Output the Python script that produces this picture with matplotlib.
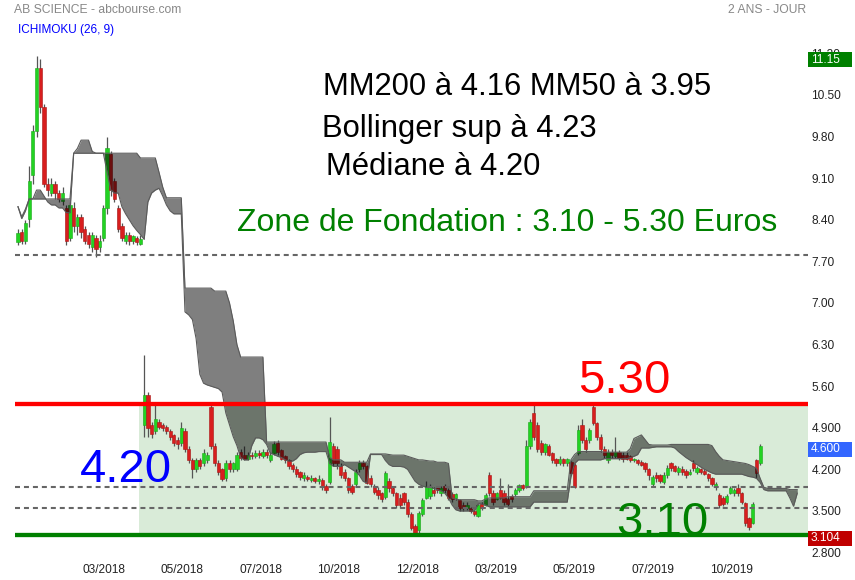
import matplotlib
matplotlib.use("Agg")
import matplotlib.pyplot as plt
import numpy as np
from matplotlib.patches import Rectangle
from matplotlib.transforms import blended_transform_factory

plt.rcParams['font.family'] = ['Liberation Sans', 'DejaVu Sans']

# ---------------- data (daily candles) ----------------
opens = [8.02, 8.20, 8.05, 8.42, 9.15, 9.90, 10.95, 10.30, 9.00, 8.85,
         9.00, 8.85, 8.72, 8.60, 8.10, 8.60, 8.30, 8.45, 8.25, 8.15,
         7.95, 8.10, 7.95, 8.10, 8.60, 9.50, 9.05, 8.60, 8.30, 8.05,
         8.15, 8.05, 8.10, 8.00, 4.95, 5.45, 4.95, 4.85, 5.00, 4.95,
         4.92, 4.85, 4.78, 4.70, 4.64, 4.85, 4.55, 4.35, 4.20, 4.35,
         4.30, 4.35, 5.25, 4.60, 4.30, 4.20, 4.05, 4.30, 4.20, 4.20,
         4.50, 4.45, 4.38, 4.45, 4.42, 4.48, 4.42, 4.50, 4.35, 4.48,
         4.65, 4.52, 4.42, 4.35, 4.28, 4.20, 4.15, 4.05, 4.08, 4.02,
         4.05, 4.00, 4.02, 3.92, 3.99, 4.60, 4.55, 4.25, 4.15, 4.05,
         3.92, 3.95, 4.20, 4.30, 4.25, 4.05, 3.92, 3.85, 3.80, 3.73,
         4.00, 3.88, 3.80, 3.72, 3.80, 3.65, 3.45, 3.25, 3.18, 3.45,
         3.72, 3.75, 3.85, 3.90, 3.80, 3.92, 3.85, 3.78, 3.72, 3.68,
         3.60, 3.55, 3.55, 3.50, 3.42, 3.62, 3.60, 4.10, 3.80, 3.70,
         3.85, 3.80, 3.70, 3.75, 3.78, 3.85, 3.93, 3.90, 4.60, 5.15,
         4.95, 4.65, 4.50, 4.60, 4.48, 4.38, 4.30, 4.38, 4.30, 4.32,
         4.27, 4.48, 4.95, 4.70, 4.70, 5.25, 4.98, 4.75, 4.55, 4.35,
         4.50, 4.42, 4.50, 4.45, 4.45, 4.42, 4.35, 4.36, 4.33, 4.30,
         4.20, 3.95, 4.10, 4.10, 3.98, 4.10, 4.30, 4.25, 4.15, 4.20,
         4.18, 4.12, 4.30, 4.15, 4.20, 4.18, 4.12, 4.05, 3.90, 3.77,
         3.72, 3.65, 3.80, 3.80, 3.88, 3.80, 3.63, 3.38, 3.30, 4.35,
         4.30]
highs = [8.25, 8.25, 8.40, 9.30, 10.00, 11.15, 11.10, 10.35, 9.10, 9.10,
         9.05, 8.90, 8.95, 8.65, 8.70, 8.70, 8.50, 8.50, 8.30, 8.20,
         8.20, 8.15, 8.15, 8.65, 9.80, 9.55, 9.10, 8.65, 8.35, 8.20,
         8.20, 8.15, 8.12, 8.15, 6.12, 5.50, 5.00, 5.28, 5.05, 4.98,
         4.95, 4.88, 4.80, 4.75, 5.00, 4.90, 4.60, 4.40, 4.40, 4.40,
         4.55, 4.50, 5.30, 4.65, 4.35, 4.22, 4.35, 4.35, 4.32, 4.50,
         4.55, 4.60, 4.50, 4.50, 4.52, 4.52, 4.55, 4.55, 4.50, 4.68,
         4.70, 4.55, 4.45, 4.38, 4.30, 4.25, 4.18, 4.15, 4.10, 4.10,
         4.08, 4.10, 4.05, 3.95, 5.08, 4.65, 4.60, 4.30, 4.20, 4.08,
         3.95, 4.20, 4.35, 4.35, 4.28, 4.10, 3.95, 3.90, 3.82, 4.18,
         4.05, 3.92, 3.82, 3.78, 3.82, 3.70, 3.48, 3.28, 3.50, 3.72,
         4.00, 3.95, 3.90, 3.92, 3.92, 3.95, 3.88, 3.82, 3.80, 3.70,
         3.65, 3.65, 3.57, 3.52, 3.62, 3.65, 3.80, 4.15, 3.85, 3.82,
         4.05, 3.85, 3.95, 3.78, 3.88, 3.95, 3.95, 4.70, 5.05, 5.32,
         5.00, 4.70, 4.65, 4.62, 4.50, 4.40, 4.42, 4.40, 4.40, 4.35,
         4.30, 4.95, 5.05, 4.75, 4.90, 5.32, 5.00, 4.80, 4.60, 4.55,
         4.55, 4.75, 4.52, 4.50, 4.50, 4.45, 4.40, 4.38, 4.35, 4.32,
         4.22, 4.10, 4.15, 4.12, 4.15, 4.28, 4.32, 4.28, 4.25, 4.25,
         4.20, 4.20, 4.35, 4.25, 4.22, 4.20, 4.14, 4.08, 3.98, 3.80,
         3.75, 3.78, 3.92, 3.88, 3.95, 3.82, 3.65, 3.40, 3.65, 4.38,
         4.62]
lows = [7.98, 8.00, 8.00, 8.28, 9.00, 9.80, 10.20, 8.95, 8.80, 8.80,
        8.75, 8.70, 8.65, 7.98, 8.05, 8.20, 8.15, 8.10, 8.00, 7.92,
        7.85, 7.77, 7.85, 8.05, 8.50, 8.80, 8.70, 8.20, 8.05, 8.00,
        7.98, 8.00, 7.98, 7.98, 4.75, 4.75, 4.72, 4.80, 4.88, 4.85,
        4.80, 4.70, 4.60, 4.55, 4.60, 4.50, 4.30, 4.05, 4.15, 4.20,
        4.25, 4.30, 4.55, 4.25, 4.10, 4.00, 4.00, 4.15, 4.15, 4.18,
        4.35, 4.35, 4.35, 4.38, 4.40, 4.40, 4.40, 4.40, 4.32, 4.45,
        4.45, 4.35, 4.30, 4.20, 4.15, 4.08, 4.02, 4.00, 4.00, 3.99,
        3.97, 3.96, 3.85, 3.80, 3.95, 4.25, 4.20, 4.05, 4.00, 3.80,
        3.78, 3.92, 4.15, 4.20, 3.95, 3.90, 3.78, 3.70, 3.65, 3.70,
        3.82, 3.75, 3.55, 3.55, 3.60, 3.40, 3.18, 3.10, 3.12, 3.42,
        3.70, 3.70, 3.75, 3.80, 3.75, 3.80, 3.68, 3.65, 3.68, 3.50,
        3.50, 3.52, 3.47, 3.42, 3.40, 3.52, 3.58, 3.75, 3.60, 3.68,
        3.70, 3.60, 3.58, 3.65, 3.75, 3.82, 3.85, 3.88, 4.55, 4.70,
        4.50, 4.45, 4.45, 4.42, 4.30, 4.25, 4.27, 4.25, 4.25, 4.10,
        3.88, 4.45, 4.65, 4.50, 4.65, 4.95, 4.70, 4.50, 4.40, 4.30,
        4.40, 4.40, 4.35, 4.32, 4.35, 4.33, 4.32, 4.28, 4.25, 4.15,
        4.02, 3.92, 3.98, 3.97, 3.95, 4.05, 4.18, 4.15, 4.10, 4.10,
        4.05, 4.10, 4.18, 4.12, 4.12, 4.10, 4.00, 3.92, 3.85, 3.55,
        3.58, 3.62, 3.78, 3.75, 3.75, 3.62, 3.25, 3.18, 3.28, 4.05,
        4.28]
closes = [8.18, 8.05, 8.35, 9.05, 9.90, 10.95, 10.30, 9.00, 8.90, 9.00,
          8.85, 8.75, 8.85, 8.05, 8.65, 8.30, 8.45, 8.20, 8.05, 8.00,
          8.15, 7.90, 8.05, 8.60, 9.60, 8.90, 8.75, 8.25, 8.10, 8.15,
          8.05, 8.12, 8.02, 8.08, 5.45, 4.90, 4.80, 5.05, 4.92, 4.90,
          4.85, 4.75, 4.65, 4.62, 4.90, 4.55, 4.35, 4.20, 4.35, 4.25,
          4.48, 4.45, 4.60, 4.30, 4.15, 4.03, 4.30, 4.20, 4.30, 4.45,
          4.40, 4.38, 4.45, 4.42, 4.48, 4.44, 4.50, 4.45, 4.45, 4.62,
          4.50, 4.38, 4.35, 4.25, 4.20, 4.12, 4.07, 4.10, 4.03, 4.06,
          4.00, 4.04, 3.90, 3.85, 4.66, 4.30, 4.30, 4.10, 4.05, 3.85,
          3.82, 4.16, 4.30, 4.25, 3.97, 3.95, 3.82, 3.77, 3.70, 4.14,
          3.88, 3.80, 3.60, 3.60, 3.65, 3.45, 3.22, 3.13, 3.47, 3.68,
          3.92, 3.90, 3.80, 3.85, 3.88, 3.85, 3.72, 3.70, 3.78, 3.55,
          3.55, 3.60, 3.50, 3.45, 3.60, 3.55, 3.77, 3.80, 3.65, 3.80,
          3.72, 3.65, 3.62, 3.70, 3.85, 3.93, 3.88, 4.60, 5.00, 4.75,
          4.55, 4.50, 4.62, 4.45, 4.35, 4.30, 4.38, 4.30, 4.38, 4.14,
          3.90, 4.86, 4.70, 4.55, 4.86, 4.98, 4.75, 4.55, 4.45, 4.50,
          4.45, 4.50, 4.40, 4.38, 4.38, 4.36, 4.38, 4.30, 4.28, 4.20,
          4.10, 4.07, 4.05, 4.00, 4.10, 4.22, 4.22, 4.18, 4.22, 4.15,
          4.10, 4.16, 4.22, 4.22, 4.15, 4.12, 4.05, 3.95, 3.95, 3.60,
          3.62, 3.75, 3.88, 3.86, 3.80, 3.65, 3.30, 3.23, 3.62, 4.14,
          4.60]

# Ichimoku cloud (senkou spans, projected 26 sessions ahead)
senkou_a = [8.62, 8.42, 8.55, 8.75, 8.75, 8.90, 8.90, 8.80, 8.70, 8.65,
            8.65, 8.60, 8.60, 8.52, 8.52, 9.52, 9.60, 9.74, 9.74, 9.74,
            9.55, 9.52, 9.52, 9.52, 9.20, 8.90, 8.85, 8.85, 8.62, 8.50,
            8.40, 8.30, 8.22, 8.15, 8.07, 8.70, 8.85, 8.90, 8.93, 8.80,
            8.65, 8.55, 8.50, 8.50, 8.50, 6.85, 6.80, 6.72, 6.40, 5.80,
            5.65, 5.62, 5.60, 5.58, 5.56, 5.50, 5.15, 4.95, 4.75, 4.60,
            4.40, 4.36, 4.36, 4.60, 4.73, 4.73, 4.70, 4.62, 4.47, 4.45,
            4.42, 4.40, 4.36, 4.34, 4.34, 4.38, 4.45, 4.48, 4.49, 4.49,
            4.49, 4.50, 4.50, 4.50, 4.30, 4.25, 4.25, 4.25, 4.28, 4.24,
            4.20, 4.16, 4.10, 4.00, 3.97, 4.45, 4.45, 4.45, 4.45, 4.35,
            4.28, 4.25, 4.25, 4.25, 4.24, 4.20, 4.10, 4.00, 3.95, 3.92,
            3.90, 3.90, 3.88, 3.86, 3.84, 3.80, 3.72, 3.60, 3.52, 3.50,
            3.50, 3.50, 3.50, 3.50, 3.62, 3.62, 3.60, 3.57, 3.57, 3.57,
            3.57, 3.57, 3.57, 3.57, 3.57, 3.57, 3.57, 3.57, 3.57, 3.65,
            3.65, 3.65, 3.65, 3.65, 3.65, 3.65, 3.65, 3.65, 3.65, 4.07,
            4.30, 4.36, 4.36, 4.36, 4.36, 4.36, 4.36, 4.36, 4.38, 4.38,
            4.38, 4.38, 4.38, 4.38, 4.38, 4.40, 4.42, 4.45, 4.56, 4.56,
            4.56, 4.57, 4.58, 4.58, 4.58, 4.58, 4.58, 4.56, 4.50, 4.45,
            4.40, 4.36, 4.32, 4.28, 4.24, 4.20, 4.17, 4.14, 4.12, 4.12,
            4.12, 4.12, 4.12, 4.12, 4.12, 4.12, 4.10, 4.08, 4.07, 4.05,
            3.98, 3.86, 3.84, 3.84, 3.84, 3.84, 3.84, 3.84, 3.72, 3.58,
            3.80]
senkou_b = [8.62, 8.45, 8.58, 8.75, 8.75, 8.75, 8.75, 8.75, 8.75, 8.75,
            8.75, 8.75, 8.75, 8.75, 8.75, 9.52, 9.52, 9.52, 9.52, 9.52,
            9.52, 9.52, 9.52, 9.52, 9.52, 9.52, 9.52, 9.52, 9.52, 9.52,
            9.52, 9.52, 9.52, 9.44, 9.44, 9.44, 9.44, 9.44, 9.20, 8.95,
            8.77, 8.77, 8.77, 8.77, 8.77, 7.25, 7.25, 7.25, 7.25, 7.25,
            7.25, 7.25, 7.25, 7.20, 7.20, 7.20, 7.20, 7.00, 6.70, 6.30,
            6.09, 6.09, 6.09, 6.09, 6.09, 6.09, 6.09, 4.66, 4.66, 4.66,
            4.66, 4.66, 4.66, 4.66, 4.66, 4.66, 4.66, 4.66, 4.66, 4.66,
            4.66, 4.66, 4.66, 4.66, 4.40, 4.36, 4.36, 4.36, 4.32, 4.32,
            4.32, 4.32, 4.32, 4.32, 4.32, 4.46, 4.46, 4.46, 4.46, 4.46,
            4.45, 4.44, 4.44, 4.44, 4.44, 4.42, 4.40, 4.38, 4.36, 4.36,
            4.35, 4.34, 4.34, 4.32, 4.32, 4.32, 4.30, 3.72, 3.70, 3.69,
            3.69, 3.69, 3.69, 3.69, 3.67, 3.67, 3.70, 3.72, 3.72, 3.72,
            3.72, 3.72, 3.74, 3.74, 3.74, 3.74, 3.74, 3.74, 3.74, 3.84,
            3.84, 3.84, 3.84, 3.84, 3.84, 3.84, 3.84, 3.84, 3.84, 4.36,
            4.45, 4.50, 4.50, 4.50, 4.50, 4.50, 4.50, 4.50, 4.49, 4.49,
            4.49, 4.49, 4.49, 4.49, 4.49, 4.55, 4.72, 4.75, 4.78, 4.70,
            4.62, 4.61, 4.61, 4.61, 4.61, 4.61, 4.62, 4.62, 4.62, 4.62,
            4.62, 4.62, 4.62, 4.62, 4.62, 4.62, 4.62, 4.60, 4.50, 4.42,
            4.36, 4.35, 4.34, 4.33, 4.32, 4.31, 4.30, 4.28, 4.25, 4.22,
            4.05, 3.90, 3.88, 3.88, 3.88, 3.88, 3.88, 3.88, 3.86, 3.86,
            3.86]

tick_pos = [23.2, 44.1, 65.4, 86.5, 107.7, 128.7, 149.9, 171.0, 192.2]
tick_labels = ['03/2018', '05/2018', '07/2018', '10/2018', '12/2018',
               '03/2019', '05/2019', '07/2019', '10/2019']
y_ticks = [2.8, 3.5, 4.2, 4.9, 5.6, 6.3, 7.0, 7.7, 8.4, 9.1, 9.8, 10.5, 11.2]
y_tick_labels = ['2.800', '3.500', '4.200', '4.900', '5.60', '6.30', '7.00',
                 '7.70', '8.40', '9.10', '9.80', '10.50', '11.20']

resistance = 5.30
support = 3.10
dashed_levels = [7.80, 3.90, 3.55]
zone_start = 32.6  # bar index where the foundation zone starts
last_price = 4.600
max_price = 11.15
min_price = 3.104

# ---------------- figure ----------------
W, H = 855, 580
fig = plt.figure(figsize=(W / 100, H / 100), dpi=100)
ax = fig.add_axes([15 / W, 20 / H, 793 / W, 520 / H])
ax.set_xlim(-0.81, 212.9)
ax.set_ylim(2.6755, 11.425)
for s in ax.spines.values():
    s.set_visible(False)

n = len(closes)
x = np.arange(n)
xc = np.arange(len(senkou_a))

# foundation zone
ax.fill_between([zone_start, 212.9], support, resistance, color='#d9ebd8',
                lw=0, zorder=0)

# candles
o = np.array(opens); c = np.array(closes)
hi = np.array(highs); lo = np.array(lows)
up = c >= o
ax.vlines(x, lo, hi, color='#555555', lw=0.9, zorder=1)
body_b = np.minimum(o, c)
body_h = np.maximum(np.abs(c - o), 0.02)
ax.bar(x[up], body_h[up], bottom=body_b[up], width=0.88, color='#22d322',
       edgecolor='#1aa81a', lw=0.4, zorder=2)
ax.bar(x[~up], body_h[~up], bottom=body_b[~up], width=0.88, color='#d81e1e',
       edgecolor='#a81414', lw=0.4, zorder=2)

# ichimoku cloud (semi transparent)
ax.fill_between(xc, senkou_a, senkou_b, color='black', alpha=0.5, lw=0,
                zorder=3)
ax.plot(xc, senkou_a, color='#5a5a5a', lw=0.8, zorder=3.1)
ax.plot(xc, senkou_b, color='#5a5a5a', lw=0.8, zorder=3.1)

# horizontal levels
for lv in dashed_levels:
    ax.axhline(lv, color='#666666', lw=1.5, ls=(0, (2.4, 1.9)), zorder=4)
ax.axhline(resistance, color='#ff0000', lw=3.1, zorder=4)
ax.axhline(support, color='#008000', lw=3.1, zorder=4)

# axes ticks
ax.set_xticks(tick_pos)
ax.set_xticklabels(tick_labels, fontsize=8.6, color='#222222')
ax.yaxis.tick_right()
ax.set_yticks(y_ticks)
ax.set_yticklabels(y_tick_labels, fontsize=8.6, color='#222222')
ax.tick_params(axis='both', length=0)
ax.tick_params(axis='x', pad=3)
ax.tick_params(axis='y', pad=2.5)

# value boxes at right
tr = blended_transform_factory(fig.transFigure, ax.transData)
box_h = 15 / 59.43
for val, txt, col in [(max_price, '11.15', '#008000'),
                      (last_price, '4.600', '#3366ff'),
                      (min_price, '3.104', '#c00000')]:
    yc = val - 0.06
    ax.add_patch(Rectangle((808 / W, yc - box_h / 2), 44 / W, box_h,
                           transform=tr, facecolor=col, edgecolor='none',
                           clip_on=False, zorder=6))
    ax.text(811 / W, yc, txt, transform=tr, color='white', fontsize=8.6,
            ha='left', va='center', clip_on=False, zorder=7)

# texts in figure pixel coordinates
def ftext(px, py, s, **kw):
    fig.text(px / W, 1 - py / H, s, **kw)

ftext(14, 13, 'AB SCIENCE - abcbourse.com', fontsize=8.7, color='#888888',
      va='baseline')
ftext(806, 13, '2 ANS - JOUR', fontsize=8.7, color='#888888', va='baseline',
      ha='right')
ftext(18, 33, 'ICHIMOKU (26, 9)', fontsize=8.5, color='#0000ff',
      va='baseline')

big = dict(fontsize=22.3, color='black', va='baseline')
ftext(323, 95, 'MM200 à 4.16 MM50 à 3.95', **big)
ftext(322, 137, 'Bollinger sup à 4.23', **big)
ftext(326, 175, 'Médiane à 4.20', **big)
ftext(237, 231, 'Zone de Fondation : 3.10 - 5.30 Euros', fontsize=23,
      color='#008000', va='baseline')
ftext(578, 393, '5.30', fontsize=34, color='#ff0000', va='baseline')
ftext(80, 482, '4.20', fontsize=34, color='#0000ff', va='baseline')
ftext(616, 535, '3.10', fontsize=34, color='#008000', va='baseline')

fig.savefig('out.png', dpi=100)
